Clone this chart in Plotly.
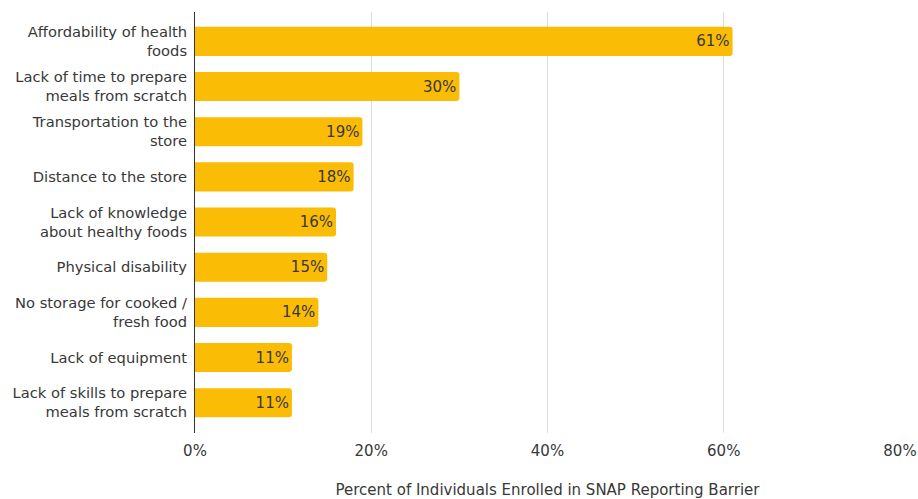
import plotly.graph_objects as go

# Barriers reported by SNAP enrollees (percent of individuals)
barriers = [
    "Affordability of health<br>foods",
    "Lack of time to prepare<br>meals from scratch",
    "Transportation to the<br>store",
    "Distance to the store",
    "Lack of knowledge<br>about healthy foods",
    "Physical disability",
    "No storage for cooked /<br>fresh food",
    "Lack of equipment",
    "Lack of skills to prepare<br>meals from scratch",
]
percents = [61, 30, 19, 18, 16, 15, 14, 11, 11]
x_ticks = [0, 20, 40, 60, 80]
x_tick_labels = ["0%", "20%", "40%", "60%", "80%"]

FONT = "DejaVu Sans, Verdana, sans-serif"
TEXT = "#383838"
SIZE = 15

fig = go.Figure(
    go.Bar(
        x=percents,
        y=barriers,
        orientation="h",
        marker=dict(color="#FBBC05", cornerradius=3, line=dict(width=0)),
        text=[f"{v}%" for v in percents],
        textposition="inside",
        insidetextanchor="end",
        textfont=dict(family=FONT, size=SIZE, color=TEXT),
        cliponaxis=False,
        hoverinfo="skip",
    )
)

fig.update_layout(
    width=918,
    height=499,
    margin=dict(l=195, r=18, t=12, b=66, autoexpand=False),
    paper_bgcolor="white",
    plot_bgcolor="white",
    bargap=0.357,
    showlegend=False,
    font=dict(family=FONT, size=SIZE, color=TEXT),
    uniformtext=dict(mode=False),
)

fig.update_xaxes(
    range=[0, 80],
    tickvals=x_ticks,
    ticktext=x_tick_labels,
    showgrid=True,
    gridcolor="#dddddd",
    gridwidth=1,
    zeroline=False,
    showline=False,
    ticks="",
    automargin=False,
    ticklabelstandoff=7,
    tickfont=dict(family=FONT, size=SIZE, color=TEXT),
    title=dict(
        text="Percent of Individuals Enrolled in SNAP Reporting Barrier",
        font=dict(family=FONT, size=SIZE, color=TEXT),
        standoff=28,
    ),
)

fig.update_yaxes(
    categoryorder="array",
    categoryarray=barriers,
    range=[8.67, -0.65],
    showgrid=False,
    zeroline=False,
    showline=True,
    linecolor="#333333",
    linewidth=1,
    ticks="",
    automargin=False,
    ticklabelstandoff=4,
    tickfont=dict(family=FONT, size=14.7, color=TEXT),
)

fig.write_html("out.html")
